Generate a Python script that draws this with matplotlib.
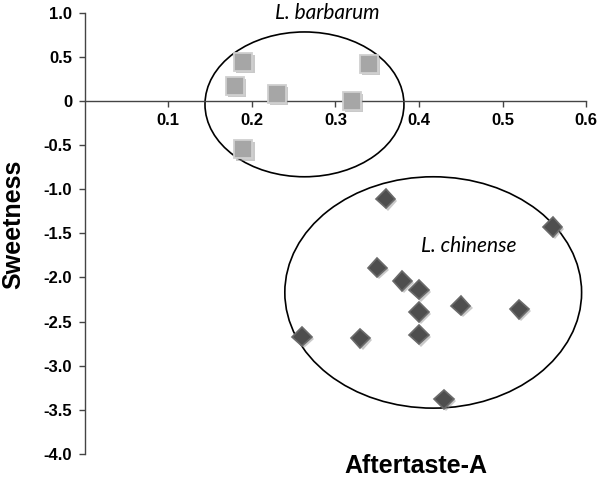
import matplotlib
matplotlib.use('Agg')

import matplotlib.pyplot as plt
import matplotlib.patheffects as pe
from matplotlib.patches import Ellipse

# Data
barbarum_x = [0.19, 0.18, 0.23, 0.34, 0.32, 0.19]
barbarum_y = [0.44, 0.17, 0.08, 0.42, 0.00, -0.55]

chinense_x = [0.36, 0.56, 0.35, 0.38, 0.40, 0.40, 0.45, 0.52, 0.40, 0.26, 0.33, 0.43]
chinense_y = [-1.11, -1.43, -1.89, -2.04, -2.14, -2.39, -2.32, -2.36, -2.65, -2.67, -2.69, -3.38]

x_ticks = [0.1, 0.2, 0.3, 0.4, 0.5, 0.6]
y_ticks = [1.0, 0.5, 0.0, -0.5, -1.0, -1.5, -2.0, -2.5, -3.0, -3.5, -4.0]

# Group outlines: (center x, center y, width, height)
barbarum_ring = (0.263, -0.04, 0.238, 1.64)
chinense_ring = (0.417, -2.17, 0.355, 2.62)

if __name__ == '__main__':

    plt.rcParams['font.family'] = ['Liberation Sans', 'DejaVu Sans']

    fig = plt.figure(figsize = (6, 4.82), dpi = 100)
    ax = fig.add_axes([0.141, 0.058, 0.836, 0.916])

    shadow = [pe.SimplePatchShadow(offset = (1.5, -1.5), shadow_rgbFace = '#888888', alpha = 0.45),
              pe.Normal()]

    # Markers
    ax.plot(barbarum_x, barbarum_y, linestyle = 'none', marker = 's', markersize = 13,
            markerfacecolor = '#a6a6a6', markeredgecolor = '#d0d0d0', markeredgewidth = 1.3,
            path_effects = shadow, zorder = 3)
    ax.plot(chinense_x, chinense_y, linestyle = 'none', marker = 'D', markersize = 9.8,
            markerfacecolor = '#4e4e4e', markeredgecolor = '#6a6a6a', markeredgewidth = 1.2,
            path_effects = shadow, zorder = 3)

    # Group ellipses
    for cx, cy, w, h in (barbarum_ring, chinense_ring):
        ax.add_patch(Ellipse((cx, cy), w, h, fill = False, edgecolor = 'black',
                             linewidth = 1.2, clip_on = False, zorder = 2))

    # Group names
    ax.text(0.29, 1.0, 'L. barbarum', family = 'Lato', style = 'italic', fontsize = 15,
            ha = 'center', va = 'center')
    ax.text(0.459, -1.64, 'L. chinense', family = 'Lato', style = 'italic', fontsize = 15,
            ha = 'center', va = 'center')

    # Axes limits and spines
    ax.set_xlim(0, 0.6)
    ax.set_ylim(-4.0, 1.0)
    ax.spines['top'].set_visible(False)
    ax.spines['right'].set_visible(False)
    ax.spines['bottom'].set_position(('data', 0))
    for s in ('left', 'bottom'):
        ax.spines[s].set_color('#444444')
        ax.spines[s].set_linewidth(1.0)

    ax.set_xticks(x_ticks)
    ax.set_xticklabels([f'{v:.1f}' for v in x_ticks])
    ax.set_yticks(y_ticks)
    ax.set_yticklabels(['0' if v == 0 else f'{v:.1f}' for v in y_ticks])
    ax.tick_params(axis = 'both', direction = 'out', length = 4, width = 1,
                   color = '#444444', labelsize = 12, pad = 5)
    for lab in ax.get_xticklabels() + ax.get_yticklabels():
        lab.set_fontweight('bold')

    # Axis titles
    ax.set_xlabel('Aftertaste-A', fontsize = 18, fontweight = 'bold')
    ax.xaxis.set_label_coords(0.66, 0.0)
    ax.set_ylabel('Sweetness', fontsize = 18, fontweight = 'bold')
    ax.yaxis.set_label_coords(-0.118, 0.52)

    fig.savefig('out.png', dpi = 100)
